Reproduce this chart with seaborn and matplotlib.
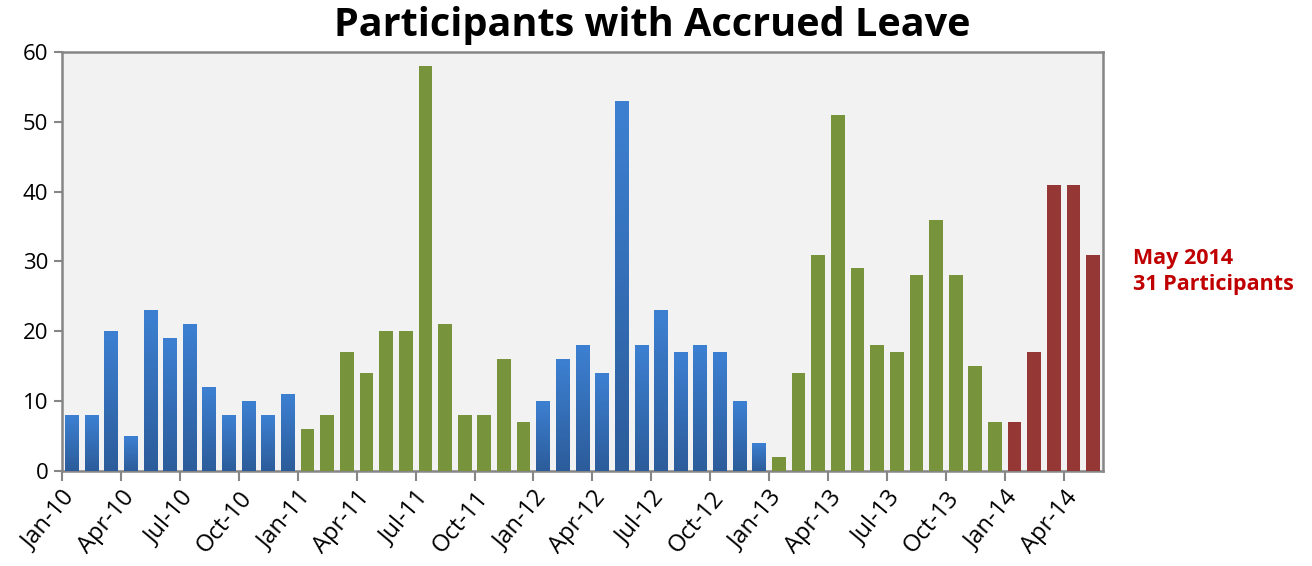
# %%
# === Load modules ===
import numpy as np
import pandas as pd
import seaborn as sns
import matplotlib.pyplot as plt
from matplotlib.colors import LinearSegmentedColormap

# %%
# === Data ===
MONTHS = pd.date_range('2010-01-01', '2014-05-01', freq='MS').strftime('%b-%y').tolist()
VAL_2010 = [8, 8, 20, 5, 23, 19, 21, 12, 8, 10, 8, 11]
VAL_2011 = [6, 8, 17, 14, 20, 20, 58, 21, 8, 8, 16, 7]
VAL_2012 = [10, 16, 18, 14, 53, 18, 23, 17, 18, 17, 10, 4]
VAL_2013 = [2, 14, 31, 51, 29, 18, 17, 28, 36, 28, 15, 7]
VAL_2014 = [7, 17, 41, 41, 31]
GROUPS = ['2010', '2011', '2012', '2013', '2014']
PALETTE = {'2010': '#3a7bcc', '2011': '#77933c', '2012': '#3a7bcc',
           '2013': '#77933c', '2014': '#953735'}

values = VAL_2010 + VAL_2011 + VAL_2012 + VAL_2013 + VAL_2014
group = sum([[g] * len(v) for g, v in zip(GROUPS, [VAL_2010, VAL_2011, VAL_2012, VAL_2013, VAL_2014])], [])
df = pd.DataFrame({'month': MONTHS, 'value': values, 'year': group})

# %%
# === Plot ===
sns.set_style('white')
plt.rcParams['font.family'] = ['Open Sans', 'DejaVu Sans']

fig = plt.figure(figsize=(13.12, 5.66), dpi=100)
ax = fig.add_axes([0.0473, 0.168, 0.7934, 0.740])
ax.set_facecolor('#f2f2f2')

sns.barplot(data=df, x='month', y='value', hue='year', palette=PALETTE,
            dodge=False, width=0.7, saturation=1, legend=False, ax=ax, zorder=3)

# blue bars get a vertical gradient like the original
blue_cmap = LinearSegmentedColormap.from_list('blue', ['#2c5c9a', '#3d80d2'])
grad = np.linspace(0, 1, 256).reshape(-1, 1)
for bar, yr in zip(ax.patches, df['year']):
    bar.set_edgecolor('none')
    if yr in ('2010', '2012'):
        x0, w, h = bar.get_x(), bar.get_width(), bar.get_height()
        im = ax.imshow(grad, cmap=blue_cmap, aspect='auto', origin='lower',
                       extent=[x0, x0 + w, 0, h], zorder=4)
        im.set_clip_path(bar)

ax.set_xlim(-0.5, len(df) - 0.5)
ax.set_ylim(0, 60)
ax.set_yticks(range(0, 61, 10))
ax.tick_params(axis='y', labelsize=16, labelcolor='black', length=6, width=1.5,
               color='#868686', left=True, pad=4)

tick_pos = np.arange(0, len(df), 3) - 0.5
ax.set_xticks(tick_pos)
ax.set_xticklabels([MONTHS[i] for i in range(0, len(df), 3)], rotation=50,
                   ha='right', rotation_mode='anchor', fontsize=17, color='black')
ax.tick_params(axis='x', length=7, width=1.5, color='#868686', bottom=True, pad=4)
ax.set_xlabel('')
ax.set_ylabel('')

for s in ax.spines.values():
    s.set_color('#868686')
    s.set_linewidth(1.8)

fig.text(0.497, 0.955, 'Participants with Accrued Leave', ha='center', va='center',
         fontsize=28.5, fontweight='bold', color='black')
fig.text(0.8635, 0.52, 'May 2014\n31 Participants', ha='left', va='center',
         fontsize=15.5, fontweight='bold', color='#c00000', linespacing=1.35)

fig.savefig('out.png', dpi=100)
